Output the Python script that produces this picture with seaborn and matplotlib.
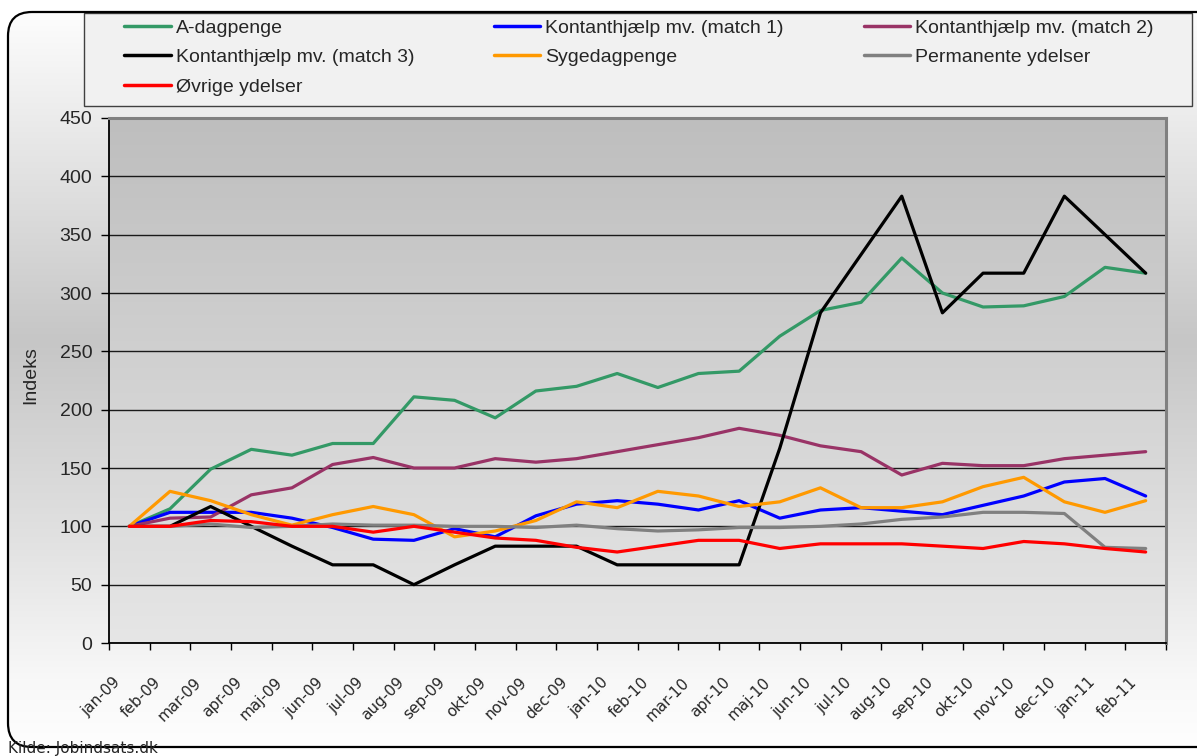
import numpy as np
import pandas as pd
import matplotlib
matplotlib.use('Agg')
import matplotlib.pyplot as plt
import seaborn as sns
from matplotlib.colors import LinearSegmentedColormap
from matplotlib.patches import FancyBboxPatch, Rectangle
from matplotlib.lines import Line2D
from matplotlib.transforms import ScaledTranslation

# data (indeks, jan-09 = 100)
maaneder = ['jan-09', 'feb-09', 'mar-09', 'apr-09', 'maj-09', 'jun-09', 'jul-09', 'aug-09',
            'sep-09', 'okt-09', 'nov-09', 'dec-09', 'jan-10', 'feb-10', 'mar-10', 'apr-10',
            'maj-10', 'jun-10', 'jul-10', 'aug-10', 'sep-10', 'okt-10', 'nov-10', 'dec-10',
            'jan-11', 'feb-11']

serier = ['A-dagpenge', 'Kontanthjælp mv. (match 1)', 'Kontanthjælp mv. (match 2)',
          'Kontanthjælp mv. (match 3)', 'Sygedagpenge', 'Permanente ydelser', 'Øvrige ydelser']

a_dagpenge = [100, 115, 149, 166, 161, 171, 171, 211, 208, 193, 216, 220, 231, 219, 231, 233,
              263, 285, 292, 330, 300, 288, 289, 297, 322, 317]
match1 = [100, 112, 112, 112, 107, 99, 89, 88, 98, 91, 109, 119, 122, 119, 114, 122,
          107, 114, 116, 113, 110, 118, 126, 138, 141, 126]
match2 = [100, 107, 108, 127, 133, 153, 159, 150, 150, 158, 155, 158, 164, 170, 176, 184,
          178, 169, 164, 144, 154, 152, 152, 158, 161, 164]
match3 = [100, 100, 117, 100, 83, 67, 67, 50, 67, 83, 83, 83, 67, 67, 67, 67,
          167, 283, 333, 383, 283, 317, 317, 383, 350, 317]
sygedagpenge = [100, 130, 122, 110, 101, 110, 117, 110, 91, 96, 105, 121, 116, 130, 126, 117,
                121, 133, 116, 116, 121, 134, 142, 121, 112, 122]
permanente = [100, 100, 102, 99, 100, 102, 101, 101, 100, 100, 99, 101, 98, 96, 97, 99,
              99, 100, 102, 106, 108, 112, 112, 111, 82, 81]
oevrige = [100, 100, 105, 104, 100, 100, 95, 100, 95, 90, 88, 82, 78, 83, 88, 88,
           81, 85, 85, 85, 83, 81, 87, 85, 81, 78]

farver = ['#339966', '#0000ff', '#993366', '#000000', '#ff9900', '#808080', '#ff0000']

vaerdier = [a_dagpenge, match1, match2, match3, sygedagpenge, permanente, oevrige]
df = pd.concat([
    pd.DataFrame({'pos': np.arange(len(maaneder)), 'maaned': maaneder, 'indeks': v, 'ydelse': navn})
    for navn, v in zip(serier, vaerdier)
], ignore_index=True)

sns.set_theme(style='white')
plt.rcParams['font.family'] = ['Liberation Sans', 'DejaVu Sans']

W, H = 1197, 756
fig = plt.figure(figsize=(W / 100, H / 100), dpi=100)
fig.patch.set_facecolor('white')

# chart area: rounded frame with grey gradient
bg = fig.add_axes([0, 0, 1, 1], zorder=-5)
bg.set_xlim(0, W)
bg.set_ylim(H, 0)
bg.axis('off')
kort = FancyBboxPatch((8, 12), 1240, 735, boxstyle='round,pad=0,rounding_size=24',
                      fc='none', ec='black', lw=1.6, zorder=3)
bg.add_patch(kort)
grad = np.linspace(0, 1, 256).reshape(-1, 1)
cmap_bg = LinearSegmentedColormap.from_list(
    'bg', [(0, '#ffffff'), (0.15, '#ececec'), (0.45, '#c6c6c6'), (0.72, '#e2e2e2'), (0.9, '#f8f8f8'), (1, '#ffffff')])
im = bg.imshow(grad, cmap=cmap_bg, extent=[0, W, H, 0], aspect='auto', zorder=1)
im.set_clip_path(kort)
bg.add_patch(Rectangle((84, 13), 1108, 93, fc='#f1f1f1', ec='#404040', lw=1.0, zorder=2))

# plot area
ax = fig.add_axes([109 / W, 1 - 643 / H, 1057 / W, 525 / H])
cmap_pa = LinearSegmentedColormap.from_list('pa', ['#bebebe', '#e6e6e6'])
ax.imshow(grad, cmap=cmap_pa, extent=[0, 1, 0, 1], transform=ax.transAxes,
          aspect='auto', zorder=0)

sns.lineplot(data=df, x='pos', y='indeks', hue='ydelse', hue_order=serier, palette=farver,
             linewidth=2.3, legend=False, errorbar=None, ax=ax)

ax.set_xlim(-0.5, len(maaneder) - 0.5)
ax.set_ylim(0, 450)
ax.set_yticks(range(0, 451, 50))
ax.yaxis.grid(True, color='#1a1a1a', lw=1.0)
ax.xaxis.grid(False)
ax.set_xlabel('')
ax.set_ylabel('Indeks', fontsize=14)
ax.yaxis.set_label_coords(-0.066, 0.51)

ax.set_xticks(np.arange(len(maaneder)))
ax.set_xticklabels(maaneder, rotation=45, ha='right', va='top', rotation_mode='anchor',
                   fontsize=11, family='DejaVu Sans')
ax.set_xticks(np.arange(-0.5, len(maaneder), 1), minor=True)
ax.tick_params(axis='x', which='major', length=0, pad=20)
ax.tick_params(axis='x', which='minor', length=5, width=1, color='black', bottom=True)
ax.tick_params(axis='y', length=6, width=1, color='black', pad=6, labelsize=14, left=True)

for side in ['left', 'bottom']:
    ax.spines[side].set_color('black')
    ax.spines[side].set_linewidth(1.3)
for side in ['top', 'right']:
    ax.spines[side].set_color('#808080')
    ax.spines[side].set_linewidth(2.2)

# legend, three columns
orden = [0, 3, 6, 1, 4, 2, 5]
handles = [Line2D([], [], color=farver[i], lw=2.5) for i in orden]
labels = [serier[i] for i in orden]
fig.legend(handles, labels, ncol=3, loc='upper left', bbox_to_anchor=(124 / W, 1 - 19 / H),
           frameon=False, fontsize=14, handlelength=2.4, handletextpad=0.25,
           columnspacing=4.1, labelspacing=0.62, borderpad=0, borderaxespad=0)

fig.text(8 / W, 1 - 748 / H, 'Kilde: Jobindsats.dk', fontsize=11, family='DejaVu Sans',
         ha='left', va='center')

for lab in ax.get_xticklabels():
    lab.set_transform(lab.get_transform() + ScaledTranslation(-0.17, -0.04, fig.dpi_scale_trans))

fig.savefig('out.png', dpi=100)
